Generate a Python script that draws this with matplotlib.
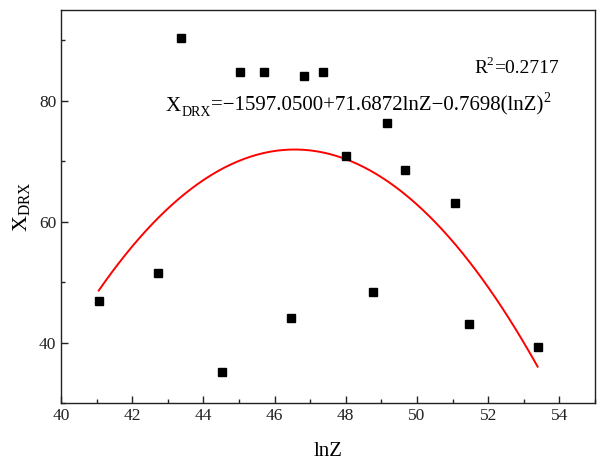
import numpy as np
import matplotlib
matplotlib.use("Agg")
import matplotlib.pyplot as plt
from matplotlib.ticker import MultipleLocator
from matplotlib.transforms import ScaledTranslation

plt.rcParams["font.family"] = ["Liberation Serif", "DejaVu Serif"]

# measured points
lnz = [41.06, 42.73, 43.37, 44.53, 45.04, 45.69, 46.83, 47.35,
       46.47, 49.15, 48.00, 49.67, 51.08, 48.77, 51.46, 53.39]
x_drx = [46.8, 51.5, 90.3, 35.2, 84.7, 84.8, 84.0, 84.7,
         44.0, 76.3, 70.9, 68.6, 63.0, 48.4, 43.1, 39.3]

# quadratic fit shown on the chart
fit_c0, fit_c1, fit_c2 = -1597.0500, 71.6872, -0.7698


def rich_text(ax, x, y, pieces):
    # pieces: (text, fontsize, baseline shift in points)
    fig = ax.figure
    renderer = fig.canvas.get_renderer()
    dx = 0.0
    for s, size, dy in pieces:
        tr = ax.transData + ScaledTranslation(dx / fig.dpi, dy / 72.0, fig.dpi_scale_trans)
        t = ax.text(x, y, s, fontsize=size, ha="left", va="baseline", transform=tr)
        dx += t.get_window_extent(renderer).width


def main():
    fig = plt.figure(figsize=(6.04, 4.66), dpi=100)
    ax = fig.add_axes([0.101, 0.135, 0.884, 0.844])

    xs = np.linspace(min(lnz), max(lnz), 200)
    ax.plot(xs, fit_c0 + fit_c1 * xs + fit_c2 * xs ** 2, color="#ff0000", lw=1.4)
    ax.plot(lnz, x_drx, "s", color="black", markersize=6.3, linestyle="none")

    ax.set_xlim(40, 55)
    ax.set_ylim(30, 95)
    ax.xaxis.set_major_locator(MultipleLocator(2))
    ax.xaxis.set_minor_locator(MultipleLocator(1))
    ax.yaxis.set_major_locator(MultipleLocator(20))
    ax.yaxis.set_minor_locator(MultipleLocator(10))
    ax.tick_params(which="major", direction="in", length=5, width=1, labelsize=12.5, colors="#222222")
    ax.tick_params(which="minor", direction="in", length=3, width=1, colors="#222222")
    for sp in ax.spines.values():
        sp.set_linewidth(1.0)
        sp.set_color("#222222")

    ax.set_xlabel("lnZ", fontsize=15, labelpad=13)
    ax.set_ylabel("X$_{\\mathregular{DRX}}$", fontsize=16, labelpad=4)

    rich_text(ax, 51.6, 84.5, [("R", 14, 0), ("2", 9.5, 6), ("=0.2717", 14, 0)])
    rich_text(ax, 42.95, 78.3, [("X", 15, 0), ("DRX", 10, -3.5),
                                ("=\u22121597.0500+71.6872lnZ\u22120.7698(lnZ)", 15, 0),
                                ("2", 10, 6.5)])

    fig.savefig("out.png", dpi=100)


if __name__ == "__main__":
    main()
